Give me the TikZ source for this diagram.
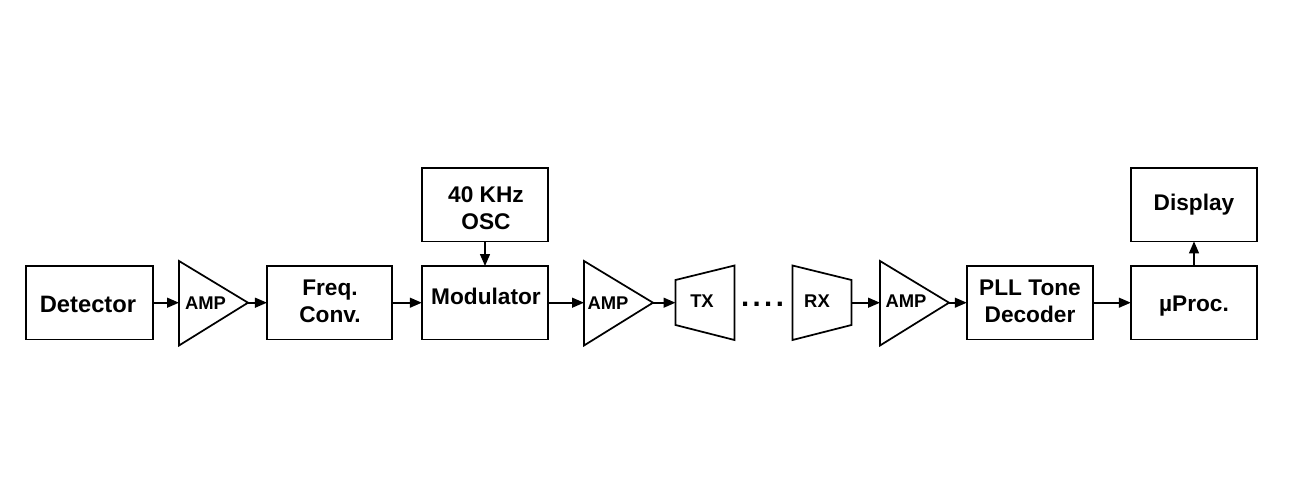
\documentclass[tikz,border=0pt]{standalone}
\usepackage{fontspec}
\setmainfont{Liberation Sans}
\usetikzlibrary{arrows.meta}
\newcommand{\pxfont}[2][20.25pt]{\fontsize{#2}{#1}\selectfont\bfseries}
\tikzset{
  x=0.75pt,y=-0.75pt,
  line/.style={line width=1.3pt,draw=black,line join=miter},
  blk/.style={line,rectangle,inner sep=0pt,outer sep=0pt,minimum width=94.8pt,minimum height=55pt,align=center,font=\pxfont{17pt},text=black},
  lbl/.style={inner sep=0pt,outer sep=0pt,align=center,font=\pxfont{17pt},text=black},
  amplbl/.style={lbl,font=\pxfont{13.8pt}},
  conn/.style={line width=1.3pt,draw=black,-{Triangle[length=9pt,width=7.4pt]}},
}
\begin{document}
\begin{tikzpicture}
\useasboundingbox (0,0) rectangle (1308,499);
% boxes
\node[blk,font=\pxfont{17.8pt}] (det) at (89.5,302.7) {};
\node[lbl,font=\pxfont{17.8pt}] (dett) at (88,304) {Detector};
\node[blk,minimum width=93.8pt] (freq) at (329.5,302.7) {};
\node[lbl] (freqt) at (330,301.5) {Freq.\\Conv.};
\node[blk] (mod) at (485,302.7) {};
\node[lbl] (modt) at (486,296) {Modulator};
\node[blk] (osc) at (485,204.7) {};
\node[lbl] (osct) at (486,208.5) {40 KHz\\OSC};
\node[blk] (pll) at (1030,302.7) {};
\node[lbl] (pllt) at (1030,301.5) {PLL Tone\\Decoder};
\node[blk] (up) at (1194,302.7) {};
\node[lbl] (upt) at (1194,306) {µProc.};
\node[blk] (disp) at (1194,204.7) {};
\node[lbl] (dispt) at (1194,205) {Display};
% amplifiers
\coordinate (a1in) at (179,302.7); \coordinate (a1out) at (248,302.7);
\coordinate (a2in) at (584,302.7); \coordinate (a2out) at (653,302.7);
\coordinate (a3in) at (880,302.7); \coordinate (a3out) at (949,302.7);
\draw[line] (179,261) -- (a1out) -- (179,345.5) -- cycle;
\draw[line] (584,261) -- (a2out) -- (584,345.5) -- cycle;
\draw[line] (880,261) -- (a3out) -- (880,345.5) -- cycle;
\node[amplbl] (a1t) at (205.5,303) {AMP};
\node[amplbl] (a2t) at (608,303) {AMP};
\node[amplbl] (a3t) at (906,301.5) {AMP};
% antennas
\coordinate (txin) at (675.5,302.7); \coordinate (rxout) at (851.5,302.7);
\draw[line] (675.5,280) -- (734.5,265.5) -- (734.5,340) -- (675.5,325) -- cycle;
\draw[line] (792.5,265.5) -- (851.5,280) -- (851.5,325) -- (792.5,340) -- cycle;
\node[amplbl] (txt) at (702,301) {TX};
\node[amplbl] (rxt) at (817,301) {RX};
\node[inner sep=0pt,font=\fontsize{22pt}{22pt}\selectfont\bfseries,anchor=base] (dots) at (762.5,306) {.\kern2.6pt.\kern2.6pt.\kern2.6pt.};
% connectors
\draw[conn] (det.east) -- (a1in);
\draw[conn] (a1out) -- (freq.west);
\draw[conn] (freq.east) -- (mod.west);
\draw[conn] (mod.east) -- (a2in);
\draw[conn] (a2out) -- (txin);
\draw[conn] (rxout) -- (a3in);
\draw[conn] (a3out) -- (pll.west);
\draw[conn] (pll.east) -- (up.west);
\draw[conn] (osc.south) -- (mod.north);
\draw[conn] (up.north) -- (disp.south);
\end{tikzpicture}
\end{document}
